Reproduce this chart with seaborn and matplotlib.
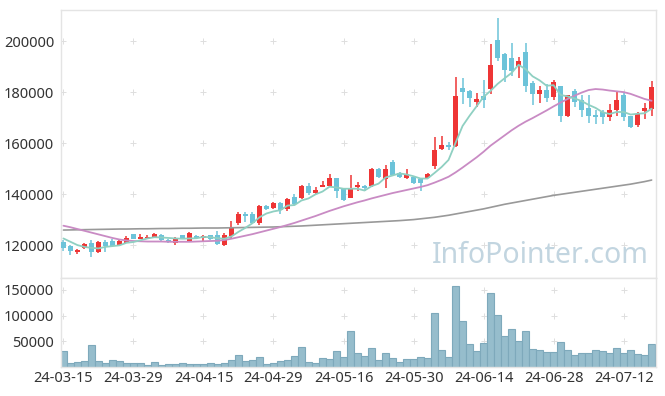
import numpy as np
import pandas as pd
import matplotlib
matplotlib.use("Agg")
import matplotlib.pyplot as plt
import seaborn as sns

# ── Data ──────────────────────────────────────────────────────
date_labels = ["24-03-15", "24-03-29", "24-04-15", "24-04-29", "24-05-16",
               "24-05-30", "24-06-14", "24-06-28", "24-07-12"]
date_ticks = [0, 10, 20, 30, 40, 50, 60, 70, 80]

open_ = [121100, 119700, 117100, 118900, 120700, 117400, 121200, 121600, 120000, 120900,
         124200, 122500, 122700, 122900, 123900, 122100, 120900, 123800, 121600, 123500,
         122700, 123800, 123800, 120000, 123600, 128700, 132300, 132300, 128500, 135300,
         134500, 136500, 134000, 139000, 138300, 143100, 140500, 142900, 143300, 146300,
         142200, 138600, 142900, 143300, 143000, 149800, 145800, 152500, 148400, 146400,
         146800, 146000, 146500, 151000, 157700, 159200, 158900, 181600, 180500, 176200,
         178400, 181300, 200400, 195100, 193400, 190400, 195700, 183500, 179200, 180800,
         177900, 182400, 170600, 180500, 176900, 173600, 171000, 172200, 170300, 172900,
         178800, 170600, 167100, 172700, 173500]
close = [118700, 117800, 118200, 120400, 117400, 121200, 119500, 119700, 121600, 122600,
         122400, 123100, 123100, 124200, 122100, 121300, 122400, 122700, 124700, 122600,
         123500, 122200, 120500, 123900, 126900, 132300, 131400, 128700, 135300, 134100,
         136500, 133700, 138000, 136100, 143100, 140500, 141600, 143600, 146300, 141200,
         137700, 142000, 143500, 142500, 149800, 146800, 149800, 147600, 146600, 147800,
         144400, 144200, 147800, 157300, 159200, 158400, 178400, 180100, 177600, 177300,
         176900, 190600, 193500, 188700, 188400, 192200, 182400, 179300, 180800, 177800,
         183900, 170600, 178800, 176200, 172900, 170600, 170300, 170300, 172900, 176900,
         170300, 166200, 171400, 173700, 182000]
high = [122000, 120000, 118400, 121000, 122100, 121500, 122100, 122400, 122200, 123400,
        124500, 124300, 123800, 124600, 124500, 122500, 123000, 124100, 125000, 123800,
        123900, 124100, 125400, 124600, 129400, 133000, 132800, 132800, 135800, 135600,
        137000, 136800, 138400, 140000, 143400, 144200, 142800, 145200, 147700, 146500,
        142500, 147500, 144800, 143600, 150200, 150100, 151600, 153200, 148700, 149700,
        147100, 146300, 148200, 162200, 162700, 160500, 185800, 185400, 180800, 179700,
        184700, 198800, 209000, 195200, 199300, 193900, 199300, 184400, 182400, 183200,
        184800, 182400, 178800, 181300, 178800, 178800, 172900, 172900, 175400, 180100,
        180100, 170800, 172200, 175800, 184300]
low = [117800, 116100, 116600, 118300, 115200, 116800, 117400, 119500, 119700, 120700,
       122200, 122300, 122500, 122700, 121800, 121000, 120000, 122400, 121300, 122300,
       121300, 121900, 120200, 119700, 122900, 128000, 129100, 128300, 128000, 133800,
       134200, 132000, 133500, 135800, 138000, 139600, 140200, 142600, 142900, 138600,
       137200, 138300, 141200, 141300, 142700, 146500, 142200, 147300, 146300, 146100,
       144100, 141300, 146200, 149800, 157400, 157300, 158600, 175200, 174100, 174200,
       173800, 179100, 192000, 184000, 186200, 185400, 179900, 175000, 175600, 176200,
       177000, 168300, 170100, 174200, 170100, 167800, 167300, 167600, 168700, 170600,
       168700, 165800, 166500, 169300, 170600]
volume = [31000, 7000, 9000, 10900, 43600, 10900, 7000, 13500, 10900, 7000,
          7000, 7000, 3200, 9000, 3200, 5100, 5100, 7000, 5100, 5100,
          5100, 7000, 5100, 7000, 13500, 22400, 10900, 13500, 18600, 5100,
          7000, 10900, 13500, 20500, 39700, 9000, 7000, 16700, 14700, 32000,
          18600, 70500, 28200, 20500, 37800, 12800, 26300, 16700, 9000, 14700,
          14700, 18600, 16700, 105100, 34000, 18600, 157000, 89700, 45500, 32000,
          47400, 143600, 101300, 60900, 74400, 51300, 70500, 35900, 34000, 30100,
          30100, 49400, 34000, 22400, 26300, 26300, 34000, 32000, 28200, 37800,
          26300, 34000, 24400, 22400, 45500]
ma_short = [122600, 121300, 120000, 119300, 118900, 118700, 119300, 119600, 119900, 120900,
            121200, 121900, 122600, 123100, 123000, 122800, 122600, 122500, 122600, 122700,
            123200, 123100, 122700, 122500, 123400, 125200, 126800, 128600, 130900, 132400,
            133200, 133700, 135500, 135700, 137500, 138300, 139900, 141000, 142900, 142600,
            142100, 142100, 142100, 141400, 143100, 144100, 146500, 147300, 148100, 147700,
            147000, 146100, 146100, 148300, 150600, 153400, 160100, 166700, 170700, 174400,
            178100, 180500, 183200, 185400, 187500, 190700, 189000, 186200, 184600, 182500,
            182700, 178900, 178300, 177500, 176500, 175000, 173800, 172100, 171400, 172200,
            172200, 171200, 171500, 171700, 173500]
ma_mid = [127600, 127000, 126300, 125600, 124900, 124200, 123500, 122800, 122200, 121800,
          121600, 121500, 121400, 121400, 121400, 121300, 121300, 121300, 121300, 121400,
          121500, 121600, 121700, 122000, 122500, 123100, 123700, 124300, 125000, 125700,
          126400, 127100, 127900, 128700, 129600, 130500, 131400, 132400, 133400, 134300,
          135200, 136000, 136800, 137500, 138300, 139000, 139700, 140400, 141000, 141600,
          142200, 142800, 143500, 144500, 145600, 146800, 148500, 150400, 152400, 154400,
          156600, 159000, 161000, 163000, 165000, 166800, 168400, 169800, 171300, 172800,
          174400, 175900, 177300, 178600, 179800, 180800, 181200, 181000, 180600, 180300,
          180000, 179300, 178300, 177300, 176600]
ma_long = [125900, 125950, 126000, 126050, 126100, 126150, 126200, 126250, 126300, 126300,
           126350, 126400, 126400, 126450, 126500, 126500, 126550, 126600, 126600, 126650,
           126700, 126700, 126700, 126750, 126800, 126850, 126900, 126950, 127000, 127050,
           127100, 127200, 127300, 127400, 127500, 127650, 127800, 127950, 128100, 128250,
           128400, 128550, 128700, 128850, 129000, 129150, 129300, 129450, 129600, 129800,
           130000, 130300, 130600, 130900, 131300, 131700, 132200, 132700, 133200, 133700,
           134200, 134800, 135400, 136000, 136500, 137000, 137500, 138000, 138500, 139000,
           139500, 139900, 140300, 140700, 141100, 141500, 141900, 142300, 142700, 143100,
           143500, 143900, 144400, 144900, 145500]

price_ticks = [120000, 140000, 160000, 180000, 200000]
vol_ticks = [50000, 100000, 150000]

RED = "#ee3535"
BLUE = "#6cc3d9"
GRID = "#dedede"
FRAME = "#e4e4e4"

df = pd.DataFrame({"idx": np.arange(len(close)), "open": open_, "close": close,
                   "high": high, "low": low, "volume": volume,
                   "ma_short": ma_short, "ma_mid": ma_mid, "ma_long": ma_long})

sns.set_theme(style="white")
plt.rcParams["font.family"] = ["Noto Sans", "DejaVu Sans"]

fig = plt.figure(figsize=(6.65, 3.96), dpi=100)
ax = fig.add_axes([0.0917, 0.298, 0.895, 0.6768])
axv = fig.add_axes([0.0917, 0.0732, 0.895, 0.2248])

# ── grid crosses ──────────────────────────────────────────────
for a, yt in ((ax, price_ticks), (axv, vol_ticks)):
    gx, gy = np.meshgrid(date_ticks, yt)
    a.scatter(gx.ravel(), gy.ravel(), marker="+", s=14, color=GRID,
              linewidths=0.7, zorder=0)

# ── candles ───────────────────────────────────────────────────
up = df["close"] >= df["open"]
colors = np.where(up, RED, BLUE)
ax.vlines(df["idx"], df["low"], df["high"], colors=colors, linewidth=1.1, zorder=2)
body_low = np.minimum(df["open"], df["close"])
body_h = np.maximum((df["close"] - df["open"]).abs(), 500)
ax.bar(df["idx"], body_h, bottom=body_low, width=0.72, color=colors,
       linewidth=0, zorder=3)

# ── moving averages ───────────────────────────────────────────
sns.lineplot(data=df, x="idx", y="ma_long", ax=ax, color="#999999", lw=1.2, zorder=4)
sns.lineplot(data=df, x="idx", y="ma_mid", ax=ax, color="#c98bc4", lw=1.3, zorder=4)
sns.lineplot(data=df, x="idx", y="ma_short", ax=ax, color="#8fd0c2", lw=1.3, zorder=4)

ax.text(0.805, 0.085, "InfoPointer.com", transform=ax.transAxes, ha="center",
        va="center", fontsize=20.5, color="#c2d5e0", zorder=5)

# ── volume ────────────────────────────────────────────────────
sns.barplot(data=df, x="idx", y="volume", ax=axv, color="#96bdcc", saturation=1,
            width=0.92, edgecolor="#7ea9bb", linewidth=0.8, zorder=2)

# ── axes styling ──────────────────────────────────────────────
for a in (ax, axv):
    a.set_xlim(-0.35, 84.65)
    a.set_xlabel("")
    a.set_ylabel("")
    for s in a.spines.values():
        s.set_color(FRAME)
        s.set_linewidth(1)
    a.tick_params(length=0, labelsize=10.5, colors="#333333", pad=5)

ax.set_ylim(107100, 212200)
ax.set_yticks(price_ticks)
ax.set_yticklabels([str(v) for v in price_ticks])
ax.set_xticks([])

axv.set_ylim(0, 173000)
axv.set_yticks(vol_ticks)
axv.set_yticklabels([str(v) for v in vol_ticks])
axv.set_xticks(date_ticks)
axv.set_xticklabels(date_labels)
axv.tick_params(axis="x", pad=3)

fig.savefig("out.png", dpi=100)
